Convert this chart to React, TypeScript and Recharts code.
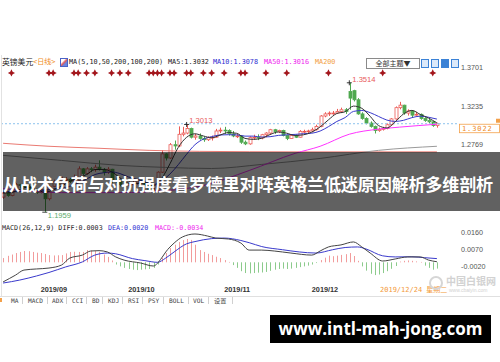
import React from "react";
import {
  ComposedChart,
  Bar,
  Line,
  XAxis,
  YAxis,
  ReferenceLine,
  ReferenceDot,
} from "recharts";

// GBP/USD daily candles, index 0 = 2019/08/20
const opens = [
  1.2140, 1.2190, 1.2160, 1.2245, 1.2290, 1.2280, 1.2270, 1.2215, 1.2225, 1.2195,
  1.2230, 1.2120, 1.2270, 1.2325, 1.2290, 1.2350, 1.2355, 1.2330, 1.2340, 1.2480,
  1.2425, 1.2480, 1.2470, 1.2500, 1.2475, 1.2440, 1.2475, 1.2335, 1.2325, 1.2290,
  1.2290, 1.2290, 1.2310, 1.2335, 1.2330, 1.2290, 1.2210, 1.2220, 1.2440, 1.2660,
  1.2610, 1.2770, 1.2755, 1.2895, 1.2910, 1.2965, 1.2860, 1.2875, 1.2845, 1.2830,
  1.2855, 1.2860, 1.2935, 1.2945, 1.2940, 1.2900, 1.2875, 1.2875, 1.2800, 1.2780,
  1.2855, 1.2860, 1.2850, 1.2890, 1.2910, 1.2950, 1.2925, 1.2940, 1.2880, 1.2845,
  1.2880, 1.2860, 1.2930, 1.2930, 1.2935, 1.2950, 1.2990, 1.3115, 1.3140, 1.3150,
  1.3150, 1.3170, 1.3190, 1.3410, 1.3420, 1.3310, 1.3140, 1.3085, 1.3030, 1.2990,
  1.2940, 1.2955, 1.2965, 1.3010, 1.3080, 1.3215, 1.3245, 1.3150, 1.3175, 1.3125,
  1.3135, 1.3085, 1.3060, 1.3045, 1.3000,
];
const highs = [
  1.2210, 1.2215, 1.2265, 1.2310, 1.2300, 1.2300, 1.2290, 1.2245, 1.2240, 1.2250,
  1.2250, 1.2290, 1.2350, 1.2340, 1.2385, 1.2380, 1.2370, 1.2410, 1.2510, 1.2490,
  1.2500, 1.2500, 1.2530, 1.2582, 1.2490, 1.2500, 1.2480, 1.2375, 1.2345, 1.2330,
  1.2330, 1.2335, 1.2350, 1.2345, 1.2335, 1.2300, 1.2250, 1.2450, 1.2705, 1.2670,
  1.2790, 1.2820, 1.2990, 1.2985, 1.3013, 1.2975, 1.2900, 1.2905, 1.2870, 1.2870,
  1.2880, 1.2960, 1.2975, 1.2985, 1.2955, 1.2935, 1.2900, 1.2885, 1.2820, 1.2870,
  1.2890, 1.2895, 1.2900, 1.2920, 1.2960, 1.2960, 1.2950, 1.2950, 1.2890, 1.2895,
  1.2890, 1.2945, 1.2950, 1.2950, 1.2975, 1.3010, 1.3125, 1.3160, 1.3170, 1.3175,
  1.3200, 1.3215, 1.3210, 1.3514, 1.3430, 1.3330, 1.3160, 1.3100, 1.3050, 1.3000,
  1.2975, 1.2985, 1.3025, 1.3090, 1.3230, 1.3285, 1.3250, 1.3195, 1.3185, 1.3165,
  1.3145, 1.3100, 1.3080, 1.3055, 1.3035,
];
const lows = [
  1.2120, 1.2145, 1.2150, 1.2230, 1.2250, 1.2255, 1.2200, 1.2195, 1.2180, 1.2185,
  1.1959, 1.2100, 1.2260, 1.2280, 1.2280, 1.2310, 1.2310, 1.2300, 1.2330, 1.2405,
  1.2410, 1.2440, 1.2445, 1.2460, 1.2400, 1.2420, 1.2310, 1.2310, 1.2270, 1.2270,
  1.2250, 1.2280, 1.2290, 1.2300, 1.2270, 1.2195, 1.2200, 1.2205, 1.2430, 1.2580,
  1.2600, 1.2710, 1.2740, 1.2870, 1.2895, 1.2845, 1.2830, 1.2830, 1.2805, 1.2815,
  1.2820, 1.2850, 1.2910, 1.2900, 1.2880, 1.2860, 1.2850, 1.2780, 1.2765, 1.2770,
  1.2830, 1.2825, 1.2835, 1.2860, 1.2890, 1.2900, 1.2910, 1.2870, 1.2825, 1.2840,
  1.2850, 1.2855, 1.2910, 1.2910, 1.2920, 1.2940, 1.2980, 1.3100, 1.3115, 1.3130,
  1.3140, 1.3150, 1.3140, 1.3190, 1.3290, 1.3130, 1.3070, 1.3015, 1.2975, 1.2905,
  1.2925, 1.2940, 1.2955, 1.3000, 1.3070, 1.3195, 1.3130, 1.3120, 1.3100, 1.3110,
  1.3070, 1.3045, 1.3030, 1.2985, 1.2975,
];
const closes = [
  1.2190, 1.2160, 1.2245, 1.2290, 1.2280, 1.2270, 1.2215, 1.2225, 1.2195, 1.2230,
  1.2120, 1.2270, 1.2325, 1.2290, 1.2350, 1.2355, 1.2330, 1.2340, 1.2480, 1.2425,
  1.2480, 1.2470, 1.2500, 1.2475, 1.2440, 1.2475, 1.2335, 1.2325, 1.2290, 1.2290,
  1.2290, 1.2310, 1.2335, 1.2330, 1.2290, 1.2210, 1.2220, 1.2440, 1.2660, 1.2610,
  1.2770, 1.2755, 1.2895, 1.2910, 1.2965, 1.2860, 1.2875, 1.2845, 1.2830, 1.2855,
  1.2860, 1.2935, 1.2945, 1.2940, 1.2900, 1.2875, 1.2875, 1.2800, 1.2780, 1.2855,
  1.2860, 1.2850, 1.2890, 1.2910, 1.2950, 1.2925, 1.2940, 1.2880, 1.2845, 1.2880,
  1.2860, 1.2930, 1.2930, 1.2935, 1.2950, 1.2990, 1.3115, 1.3140, 1.3150, 1.3150,
  1.3170, 1.3190, 1.3170, 1.3330, 1.3310, 1.3140, 1.3085, 1.3030, 1.2990, 1.2940,
  1.2955, 1.2965, 1.3010, 1.3080, 1.3215, 1.3245, 1.3150, 1.3175, 1.3125, 1.3135,
  1.3085, 1.3060, 1.3045, 1.3000, 1.3022,
];

// moving averages, read as [day index, value]
const ma5Pts = [
  [0, 1.2190], [2, 1.2195], [4, 1.2233], [6, 1.2260], [8, 1.2237], [10, 1.2197],
  [12, 1.2228], [14, 1.2271], [16, 1.2330], [18, 1.2371], [20, 1.2411], [22, 1.2471],
  [24, 1.2473], [26, 1.2445], [28, 1.2373], [30, 1.2306], [32, 1.2303], [34, 1.2311],
  [36, 1.2277], [38, 1.2364], [40, 1.2540], [42, 1.2738], [44, 1.2859], [46, 1.2901],
  [48, 1.2875], [50, 1.2853], [52, 1.2885], [54, 1.2916], [56, 1.2907], [58, 1.2846],
  [60, 1.2834], [62, 1.2847], [64, 1.2892], [66, 1.2923], [68, 1.2908], [70, 1.2881],
  [72, 1.2889], [74, 1.2921], [76, 1.2984], [78, 1.3069], [80, 1.3145], [82, 1.3166],
  [84, 1.3234], [86, 1.3207], [88, 1.3111], [90, 1.3000], [92, 1.2972], [94, 1.3045],
  [96, 1.3140], [98, 1.3182], [100, 1.3134], [102, 1.3090], [104, 1.3032],
];
const ma10Pts = [
  [0, 1.2210], [2, 1.2205], [4, 1.2205], [6, 1.2215], [8, 1.2225], [10, 1.2222],
  [12, 1.2238], [14, 1.2244], [16, 1.2271], [18, 1.2310], [20, 1.2356], [22, 1.2411],
  [24, 1.2432], [26, 1.2443], [28, 1.2423], [30, 1.2383], [32, 1.2356], [34, 1.2325],
  [36, 1.2291], [38, 1.2336], [40, 1.2417], [42, 1.2530], [44, 1.2656], [46, 1.2770],
  [48, 1.2837], [50, 1.2867], [52, 1.2887], [54, 1.2890], [56, 1.2888], [58, 1.2873],
  [60, 1.2873], [62, 1.2862], [64, 1.2866], [66, 1.2882], [68, 1.2889], [70, 1.2894],
  [72, 1.2902], [74, 1.2908], [76, 1.2934], [78, 1.2987], [80, 1.3049], [82, 1.3096],
  [84, 1.3170], [86, 1.3181], [88, 1.3155], [90, 1.3110], [92, 1.3066], [94, 1.3050],
  [96, 1.3063], [98, 1.3095], [100, 1.3113], [102, 1.3100], [104, 1.3078],
];
const ma50Pts = [
  [0, 1.2242], [14, 1.2194], [28, 1.2194], [39, 1.2218], [48, 1.2279], [59, 1.2460],
  [70, 1.2666], [76, 1.2751], [83, 1.2896], [90, 1.2957], [95, 1.2981], [104, 1.3016],
];
const ma100Pts = [
  [0, 1.2642], [14, 1.2581], [28, 1.2521], [39, 1.2497], [50, 1.2484], [62, 1.2533],
  [76, 1.2605], [90, 1.2702], [104, 1.2751],
];
const ma200Pts = [
  [0, 1.2787], [11, 1.2751], [23, 1.2727], [35, 1.2702], [47, 1.2690], [71, 1.2684],
  [104, 1.2684],
];

// MACD(26,12,9)
const macdHist = [
  0.0023, 0.0035, 0.0042, 0.0050, 0.0056, 0.0061, 0.0060, 0.0056, 0.0052, 0.0050,
  0.0045, 0.0039, 0.0037, 0.0038, 0.0039, 0.0048, 0.0056, 0.0057, 0.0056, 0.0056,
  0.0066, 0.0064, 0.0061, 0.0056, 0.0042, 0.0029, 0.0010, -0.0012, -0.0022, -0.0030,
  -0.0036, -0.0040, -0.0042, -0.0040, -0.0038, -0.0036, -0.0030, -0.0012, 0.0023, 0.0050,
  0.0077, 0.0095, 0.0110, 0.0120, 0.0126, 0.0121, 0.0095, 0.0066, 0.0056, 0.0046,
  0.0039, 0.0030, 0.0023, 0.0012, 0.0002, -0.0015, -0.0030, -0.0048, -0.0058, -0.0060,
  -0.0058, -0.0056, -0.0055, -0.0052, -0.0046, -0.0040, -0.0036, -0.0034, -0.0036, -0.0034,
  -0.0030, -0.0026, -0.0022, -0.0018, -0.0012, -0.0004, 0.0012, 0.0025, 0.0036, 0.0033,
  0.0036, 0.0040, 0.0044, 0.0050, 0.0034, 0.0008, -0.0022, -0.0045, -0.0062, -0.0069,
  -0.0066, -0.0058, -0.0048, -0.0035, -0.0020, 0.0004, 0.0008, 0.0010, 0.0008, 0.0005,
  0.0002, -0.0018, -0.0030, -0.0040, -0.0034,
];
const diffPts = [
  [0, -0.0106], [3, -0.0069], [5, -0.0042], [8, -0.0036], [11, -0.0031], [14, -0.0015],
  [16, 0.0023], [19, 0.0039], [21, 0.0061], [23, 0.0063], [25, 0.0056], [27, 0.0029],
  [29, 0.0012], [33, -0.0004], [36, -0.0020], [38, 0.0023], [39, 0.0056], [41, 0.0104],
  [43, 0.0137], [46, 0.0153], [49, 0.0142], [51, 0.0131], [54, 0.0126], [57, 0.0104],
  [59, 0.0066], [62, 0.0066], [65, 0.0061], [69, 0.0050], [74, 0.0039], [76, 0.0061],
  [78, 0.0083], [81, 0.0094], [84, 0.0110], [86, 0.0083], [88, 0.0050], [91, 0.0007],
  [94, 0.0018], [97, 0.0029], [100, 0.0029], [102, 0.0012], [104, 0.0003],
];
const deaPts = [
  [0, -0.0112], [4, -0.0096], [8, -0.0074], [11, -0.0055], [15, -0.0025], [19, 0.0002],
  [22, 0.0039], [25, 0.0050], [27, 0.0046], [31, 0.0020], [34, 0.0009], [37, 0.0000],
  [39, 0.0023], [41, 0.0056], [44, 0.0100], [46, 0.0112], [50, 0.0128], [53, 0.0131],
  [57, 0.0118], [59, 0.0106], [62, 0.0085], [67, 0.0068], [71, 0.0056], [75, 0.0050],
  [79, 0.0068], [82, 0.0080], [85, 0.0083], [87, 0.0072], [91, 0.0035], [94, 0.0029],
  [98, 0.0030], [101, 0.0025], [104, 0.0020],
];

const priceTicks = [1.3701, 1.3235, 1.2769];
const macdTicks = [0.016, 0.007, -0.002];
const monthTicks = [
  { i: 9, label: "2019/09" },
  { i: 30, label: "2019/10" },
  { i: 53, label: "2019/11" },
  { i: 74, label: "2019/12" },
];
const cursorDay = { i: 90, label: "2019/12/24 星期二" };
const eventDays = [
  2, 11, 12, 17, 18, 20, 22, 26, 28, 30, 35, 36, 37, 38, 40, 41, 44, 45, 48, 50,
  53, 57, 58, 63, 68, 78, 91, 103,
];
const lastPrice = 1.3022;
const peakHigh = { i: 83, value: 1.3514 };
const octHigh = { i: 44, value: 1.3013 };
const septLow = { i: 10, value: 1.1959 };

const PRICE_DOMAIN = [1.1841, 1.3848];
const MACD_DOMAIN = [-0.01227, 0.018];
const EVENT_LEVEL = 1.3632;

const RED = "#ec5a55";
const GREEN = "#4fa84f";
const MONO = "'DejaVu Sans Mono', 'Noto Sans CJK SC', monospace";
const SANS = "'Liberation Sans', Arial, sans-serif";
const CJK = "'Noto Sans CJK SC', sans-serif";

const spread = (pts: number[][]) => {
  const out: (number | null)[] = closes.map(() => null);
  pts.forEach(([i, v]) => (out[i] = v));
  return out;
};
const ma5 = spread(ma5Pts);
const ma10 = spread(ma10Pts);
const ma50 = spread(ma50Pts);
const ma100 = spread(ma100Pts);
const ma200 = spread(ma200Pts);
const diff = spread(diffPts);
const dea = spread(deaPts);

const rows = closes.map((c, i) => ({
  i,
  range: [lows[i], highs[i]],
  open: opens[i],
  close: c,
  ma5: ma5[i],
  ma10: ma10[i],
  ma50: ma50[i],
  ma100: ma100[i],
  ma200: ma200[i],
  hist: macdHist[i],
  diff: diff[i],
  dea: dea[i],
}));

function Candle(props: any) {
  const { x, y, width, height } = props;
  const d = props.payload ?? props;
  if (!d || !d.range || x == null) return null;
  const top = Math.min(y, y + height);
  const h = Math.abs(height);
  const [lo, hi] = d.range;
  const span = hi - lo || 1e-9;
  const py = (v: number) => top + ((hi - v) / span) * h;
  const up = d.close >= d.open;
  const color = up ? RED : GREEN;
  const cx = Math.round(x + width / 2) + 0.5;
  const bTop = py(Math.max(d.open, d.close));
  const bBot = py(Math.min(d.open, d.close));
  return (
    <g>
      <line x1={cx} x2={cx} y1={top} y2={bTop} stroke={color} strokeWidth={1} />
      <line x1={cx} x2={cx} y1={bBot} y2={top + h} stroke={color} strokeWidth={1} />
      <rect
        x={cx - 1.5}
        y={bTop}
        width={3}
        height={Math.max(bBot - bTop, 0.8)}
        fill={up ? "#fff" : color}
        stroke={color}
        strokeWidth={0.8}
      />
    </g>
  );
}

function HistBar(props: any) {
  const { x, y, width, height } = props;
  const d = props.payload ?? props;
  if (x == null || !d) return null;
  const top = Math.min(y, y + height);
  const h = Math.max(Math.abs(height), 0.6);
  const cx = Math.round(x + width / 2);
  return <rect x={cx} y={top} width={1} height={h} fill={d.hist >= 0 ? "#f29c9c" : "#8ccb8c"} />;
}

function Star(props: any) {
  const { cx, cy } = props;
  const r = 3.6;
  const q = 1.2;
  const pts = [
    [cx, cy - r], [cx + q, cy - q], [cx + r, cy], [cx + q, cy + q],
    [cx, cy + r], [cx - q, cy + q], [cx - r, cy], [cx - q, cy - q],
  ]
    .map((p) => p.join(","))
    .join(" ");
  return <polygon points={pts} fill="#a3161c" />;
}

function Cross({ cx, cy }: { cx: number; cy: number }) {
  return (
    <g stroke="#222" strokeWidth={0.9}>
      <line x1={cx - 2.5} x2={cx + 2.5} y1={cy} y2={cy} />
      <line x1={cx} x2={cx} y1={cy - 2.5} y2={cy + 2.5} />
    </g>
  );
}

function PriceTick(props: any) {
  const { y, payload } = props;
  return (
    <text x={461} y={y} dy={2.6} fontSize={7.2} fill="#555" fontFamily={SANS}>
      {Number(payload.value).toFixed(4)}
    </text>
  );
}

function DateTick(props: any) {
  const { x, payload } = props;
  const m = monthTicks.find((t) => t.i === payload.value);
  if (m) {
    return (
      <text x={x} y={62.6} fontSize={7.3} fontWeight="bold" fill="#333" fontFamily={SANS}>
        {m.label}
      </text>
    );
  }
  if (payload.value === cursorDay.i) {
    return (
      <text x={x + 1.5} y={62.6} fontSize={7} fill="#f39a3a" fontFamily={MONO}>
        {cursorDay.label}
      </text>
    );
  }
  return <g />;
}

function LastPriceLabel(props: any) {
  const vb = props.viewBox || {};
  const yy = vb.y ?? 0;
  const right = (vb.x ?? 0) + (vb.width ?? 0);
  return (
    <g>
      <line x1={right} x2={458} y1={yy} y2={yy} stroke="#8cc2ee" strokeDasharray="2 2" />
      <rect x={459.5} y={yy + 0.5} width={40} height={8.5} fill="#fff" stroke="#f3a04a" strokeWidth={0.8} />
      <text x={462} y={yy + 7.2} fontSize={7} fill="#f08a24" fontFamily={MONO} letterSpacing={0.9}>
        {lastPrice.toFixed(4)}
      </text>
      <rect x={496} y={yy - 5} width={4} height={4} fill="#f3a04a" />
    </g>
  );
}

const headerBits = [
  { text: "英镑美元", left: 2, color: "#222", font: CJK, size: 7.8 },
  { text: "<日线>", left: 33, color: "#f08a24", font: MONO, size: 7 },
  { text: "MA(5,10,50,200,100,200)", left: 69, color: "#222", font: MONO, size: 6.8 },
  { text: "MA5:1.3032", left: 168, color: "#222", font: MONO, size: 6.8 },
  { text: "MA10:1.3078", left: 213, color: "#2d2dd0", font: MONO, size: 6.8 },
  { text: "MA50:1.3016", left: 264, color: "#ee22ee", font: MONO, size: 6.8 },
  { text: "MA200", left: 315, color: "#f2a040", font: MONO, size: 6.8 },
];
const macdBits = [
  { text: "MACD(26,12,9) DIFF:0.0003", left: 2, color: "#222" },
  { text: "DEA:0.0020", left: 108, color: "#2d2dd0" },
  { text: "MACD:-0.0034", left: 155, color: "#ee22ee" },
];
const tabs = [
  ["MA", 11], ["MACD", 28], ["ADX", 52], ["CCI", 72], ["BD", 92], ["KDJ", 108],
  ["RSI", 128], ["PSY", 148], ["BOLL", 169], ["VOL", 193], ["设置", 214],
];
const tabSeps = [22, 47, 66, 86, 102, 122, 142, 163, 188, 208, 232];

export default function App() {
  return (
    <div
      style={{
        position: "absolute",
        left: 0,
        top: 0,
        width: 500,
        height: 362,
        background: "#fff",
        overflow: "hidden",
      }}
    >
      {/* price panel */}
      <div style={{ position: "absolute", left: 0, top: 55 }}>
        <ComposedChart width={500} height={167} data={rows} margin={{ top: 0, right: 0, bottom: 0, left: 1 }}>
          <XAxis dataKey="i" hide />
          <YAxis
            orientation="right"
            width={61}
            domain={PRICE_DOMAIN}
            allowDataOverflow
            ticks={priceTicks}
            interval={0}
            axisLine={false}
            tickLine={false}
            tick={<PriceTick />}
          />
          <ReferenceLine y={lastPrice} stroke="#8cc2ee" strokeDasharray="2 2" label={<LastPriceLabel />} />
          <Line dataKey="ma200" stroke="#ea7a72" strokeWidth={1} dot={false} activeDot={false} connectNulls type="monotone" isAnimationActive={false} />
          <Line dataKey="ma100" stroke="#9a9a9a" strokeWidth={1} dot={false} activeDot={false} connectNulls type="monotone" isAnimationActive={false} />
          <Line dataKey="ma50" stroke="#ff33ff" strokeWidth={1} dot={false} activeDot={false} connectNulls type="monotone" isAnimationActive={false} />
          <Bar dataKey="range" barSize={3} shape={<Candle />} isAnimationActive={false} />
          <Line dataKey="ma10" stroke="#3a3acc" strokeWidth={1} dot={false} activeDot={false} connectNulls type="monotone" isAnimationActive={false} />
          <Line dataKey="ma5" stroke="#333" strokeWidth={1} dot={false} activeDot={false} connectNulls type="monotone" isAnimationActive={false} />
          {eventDays.map((d) => (
            <ReferenceDot key={d} x={d} y={EVENT_LEVEL} r={3} shape={<Star />} />
          ))}
          <ReferenceDot
            x={peakHigh.i}
            y={peakHigh.value}
            r={1}
            shape={(p: any) => (
              <g>
                <Cross cx={p.cx} cy={p.cy} />
                <text x={p.cx + 3} y={p.cy - 0.5} fontSize={7.6} fill="#e85a5a" fontFamily={SANS}>
                  {peakHigh.value.toFixed(4)}
                </text>
              </g>
            )}
          />
          <ReferenceDot
            x={octHigh.i}
            y={octHigh.value}
            r={1}
            shape={(p: any) => (
              <g>
                <Cross cx={p.cx} cy={p.cy} />
                <text x={p.cx + 2.5} y={p.cy - 1} fontSize={7.6} fill="#e85a5a" fontFamily={SANS}>
                  {octHigh.value.toFixed(4)}
                </text>
              </g>
            )}
          />
          <ReferenceDot
            x={septLow.i}
            y={septLow.value}
            r={1}
            shape={(p: any) => (
              <g>
                <line x1={p.cx - 2.5} x2={p.cx + 2.5} y1={p.cy} y2={p.cy} stroke="#222" strokeWidth={0.9} />
                <text x={p.cx + 3} y={p.cy + 6} fontSize={7.6} fill="#5aaa6a" fontFamily={SANS}>
                  {septLow.value.toFixed(4)}
                </text>
              </g>
            )}
          />
        </ComposedChart>
      </div>

      {/* MACD panel */}
      <div style={{ position: "absolute", left: 0, top: 229 }}>
        <ComposedChart width={500} height={70} data={rows} margin={{ top: 0, right: 0, bottom: 0, left: 1 }}>
          <XAxis dataKey="i" height={14} interval={0} axisLine={false} tickLine={false} tick={<DateTick />} />
          <YAxis
            orientation="right"
            width={61}
            domain={MACD_DOMAIN}
            allowDataOverflow
            ticks={macdTicks}
            interval={0}
            axisLine={false}
            tickLine={false}
            tick={<PriceTick />}
          />
          <Bar dataKey="hist" barSize={1} shape={<HistBar />} isAnimationActive={false} />
          <Line dataKey="dea" stroke="#3a3acc" strokeWidth={1} dot={false} activeDot={false} connectNulls type="monotone" isAnimationActive={false} />
          <Line dataKey="diff" stroke="#444" strokeWidth={1} dot={false} activeDot={false} connectNulls type="monotone" isAnimationActive={false} />
        </ComposedChart>
      </div>

      {/* header line */}
      {headerBits.map((b) => (
        <div
          key={b.text}
          style={{
            position: "absolute",
            left: b.left,
            top: 57,
            height: 10,
            lineHeight: "10px",
            fontSize: b.size,
            fontFamily: b.font,
            color: b.color,
            whiteSpace: "nowrap",
          }}
        >
          {b.text}
        </div>
      ))}
      <div
        style={{
          position: "absolute",
          left: 60,
          top: 58,
          width: 6,
          height: 7,
          border: "1px solid #4a62c8",
          background: "linear-gradient(135deg,#fff 30%,#e05a5a 50%,#6a86e0 70%)",
        }}
      />
      <div
        style={{
          position: "absolute",
          left: 366,
          top: 58,
          width: 52,
          height: 9,
          border: "1px solid #8a8a8a",
          fontSize: 7,
          lineHeight: "9px",
          textAlign: "center",
          fontFamily: CJK,
          color: "#333",
          background: "#fff",
        }}
      >
        全部主题▼
      </div>
      {[421, 431, 441, 451].map((l, k) => (
        <div
          key={l}
          style={{
            position: "absolute",
            left: l,
            top: 59,
            width: 6,
            height: 7,
            border: "1px solid #3b82d6",
            background: k === 2 ? "#3b82d6" : "#dbe9fa",
          }}
        />
      ))}

      {/* left border */}
      <div style={{ position: "absolute", left: 1, top: 55, width: 1, height: 241, background: "#e2e2e2" }} />

      {/* MACD header */}
      {macdBits.map((b) => (
        <div
          key={b.text}
          style={{
            position: "absolute",
            left: b.left,
            top: 222.5,
            height: 10,
            lineHeight: "10px",
            fontSize: 6.7,
            fontFamily: MONO,
            color: b.color,
            whiteSpace: "nowrap",
          }}
        >
          {b.text}
        </div>
      ))}

      {/* watermark */}
      <div
        style={{
          position: "absolute",
          left: 429,
          top: 276,
          width: 10,
          height: 10,
          borderRadius: "50%",
          border: "2px solid #d6d6d6",
        }}
      />
      <div style={{ position: "absolute", left: 446, top: 275, fontSize: 10, fontWeight: "bold", fontFamily: CJK, color: "#d2d2d2", lineHeight: "12px" }}>
        中国白银网
      </div>
      <div style={{ position: "absolute", left: 449, top: 287, fontSize: 5, fontFamily: SANS, color: "#d2d2d2", lineHeight: "6px" }}>
        www.cbaiyin.com
      </div>

      {/* tab row */}
      <div style={{ position: "absolute", left: 0, top: 296, width: 500, height: 1, background: "#e0e0e0" }} />
      {tabs.map(([t, l]) => (
        <div
          key={t as string}
          style={{
            position: "absolute",
            left: l as number,
            top: 297,
            fontSize: 6.2,
            lineHeight: "7px",
            fontFamily: MONO,
            color: "#444",
            whiteSpace: "nowrap",
          }}
        >
          {t}
        </div>
      ))}
      {tabSeps.map((l) => (
        <div key={l} style={{ position: "absolute", left: l, top: 297, width: 1, height: 7, background: "#d0d0d0" }} />
      ))}
      <div style={{ position: "absolute", left: 0, top: 298, width: 2, height: 4, background: "#f3a04a" }} />

      {/* title banner */}
      <div
        style={{
          position: "absolute",
          left: 3,
          top: 152,
          width: 497,
          height: 59,
          background: "rgba(0,0,0,0.62)",
        }}
      />
      <div
        style={{
          position: "absolute",
          left: 3,
          top: 171,
          width: 496,
          fontSize: 17.1,
          lineHeight: "26px",
          fontWeight: "bold",
          fontFamily: CJK,
          color: "#fff",
          whiteSpace: "nowrap",
          letterSpacing: -0.2,
        }}
      >
        从战术负荷与对抗强度看罗德里对阵英格兰低迷原因解析多维剖析
      </div>

      {/* site tag */}
      <div
        style={{
          position: "absolute",
          left: 270,
          top: 315,
          width: 221,
          height: 28,
          background: "#000",
          color: "#fff",
          fontSize: 17,
          fontWeight: "bold",
          fontFamily: "'Open Sans', 'Liberation Sans', sans-serif",
          lineHeight: "28px",
          textAlign: "center",
        }}
      >
        www.intl-mah-jong.com
      </div>
    </div>
  );
}
